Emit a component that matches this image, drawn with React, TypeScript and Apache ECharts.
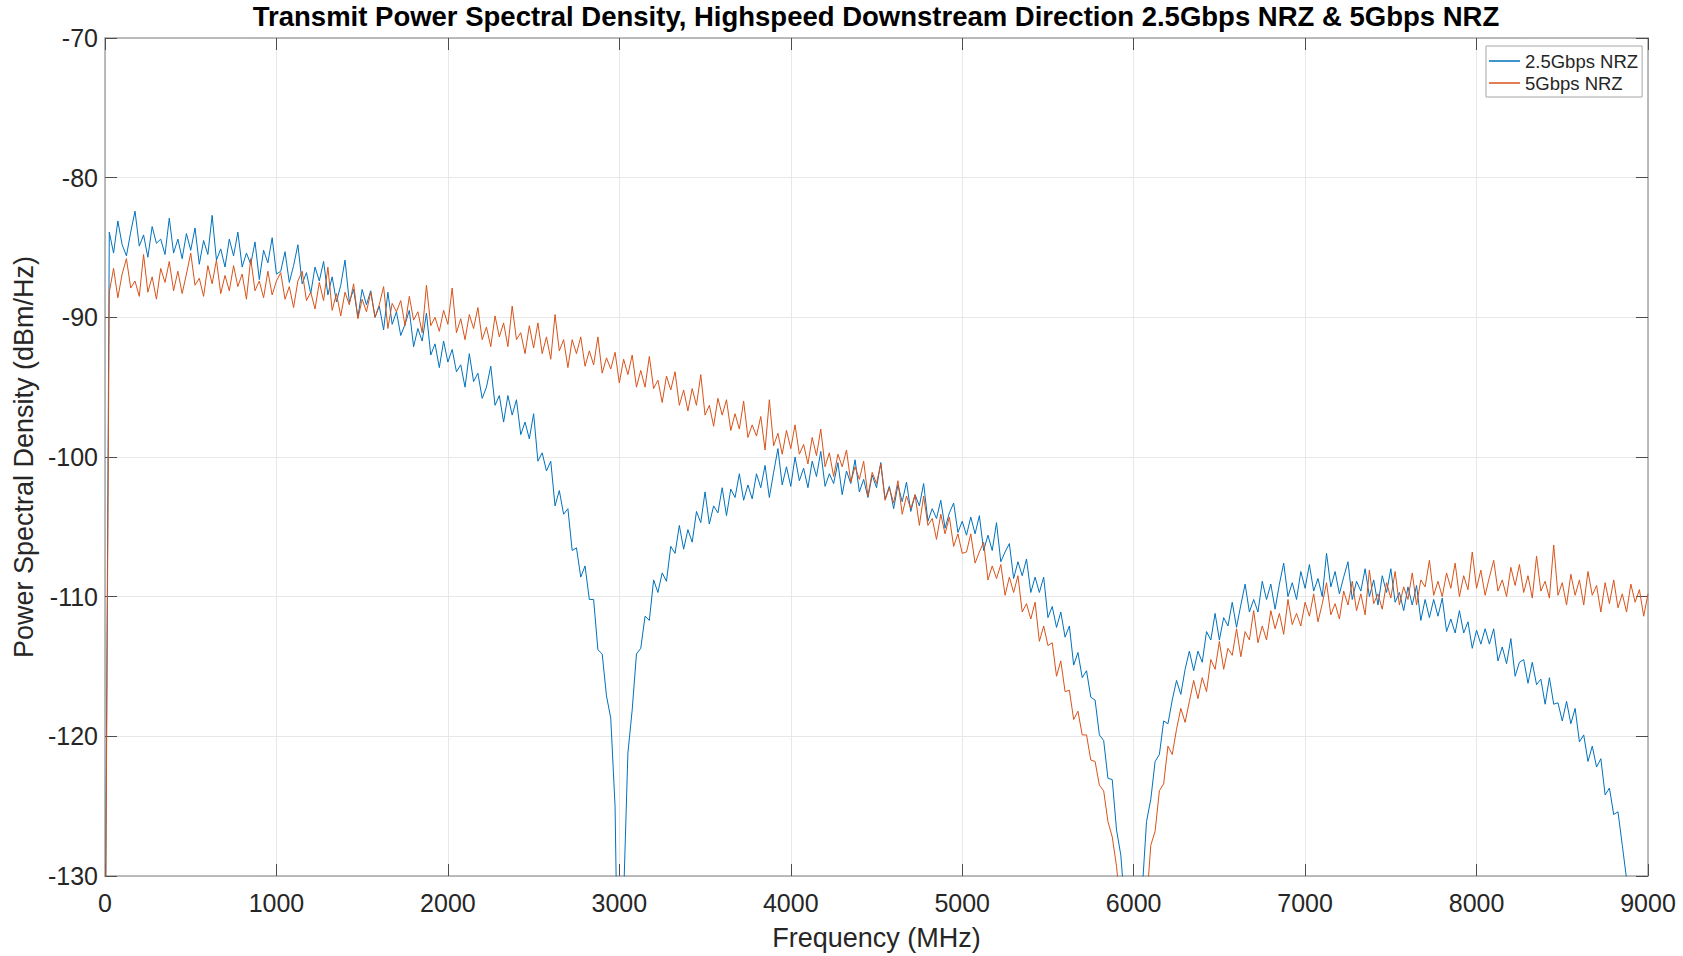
import React, { useEffect, useRef } from "react";
import * as echarts from "echarts";

const TITLE = "Transmit Power Spectral Density, Highspeed Downstream Direction 2.5Gbps NRZ & 5Gbps NRZ";
const X_NAME = "Frequency (MHz)";
const Y_NAME = "Power Spectral Density (dBm/Hz)";
const SERIES_NAMES = ["2.5Gbps NRZ", "5Gbps NRZ"];
const SERIES_COLORS = ["#0072BD", "#D95319"];

const X_MIN = 0;
const X_MAX = 9000;
const X_INTERVAL = 1000;
const Y_MIN = -130;
const Y_MAX = -70;
const Y_INTERVAL = 10;

// frequency grid: one reading every 25 MHz from 0 to 9000 MHz
const FREQ_STEP_MHZ = 25;

// 2.5Gbps NRZ readings (dBm/Hz), rows of 1000 MHz
const PSD_2G5 = [
  -140, -83.9, -85.4, -83.1, -84.8, -85.6, -83.9, -82.4, -84.9, -84.1, -85.7, -83.5, -84.7, -84.4, -85.5, -82.9, -85.4, -84.4, -85.8, -84.0, -85.2, -83.6, -86.2, -84.5, -85.5, -82.7, -85.9, -85.1, -86.4, -84.4, -85.6, -83.9, -86.4, -85.4, -86.2, -84.6, -87.3, -85.2, -86.1, -84.3, -86.9,
  -86.7, -85.3, -87.5, -86.3, -84.8, -87.6, -86.8, -88.3, -86.4, -87.4, -86.0, -88.4, -87.1, -88.9, -87.7, -85.9, -88.9, -88.0, -90.0, -88.0, -89.1, -88.1, -90.0, -89.2, -90.9, -88.2, -90.5, -89.6, -91.3, -90.5, -89.5, -92.1, -90.8, -91.7, -89.7, -92.7, -91.9, -93.6, -91.7, -93.2,
  -92.3, -93.9, -93.4, -95.0, -92.6, -94.6, -94.0, -95.8, -95.0, -93.5, -96.3, -95.6, -97.5, -95.6, -97.0, -95.9, -98.4, -97.5, -98.7, -96.9, -100.3, -99.7, -101.0, -100.3, -103.5, -102.4, -104.1, -103.7, -106.7, -106.5, -108.6, -107.8, -110.2, -110.2, -113.8, -114.1, -117.1, -118.7, -125.0, -145,
  -131.5, -121.2, -118.1, -114.1, -113.7, -111.4, -111.7, -108.8, -109.7, -108.3, -108.9, -106.4, -106.9, -104.9, -106.6, -105.2, -106.1, -103.9, -104.7, -102.5, -104.8, -103.5, -104.0, -102.2, -104.2, -102.3, -102.9, -101.2, -103.1, -102.0, -103.0, -101.2, -102.2, -100.6, -102.9, -101.1, -99.4, -102.0, -100.7, -102.1,
  -100.0, -101.7, -100.8, -102.2, -100.3, -101.4, -99.6, -102.1, -101.2, -101.9, -100.4, -102.7, -101.0, -101.9, -100.2, -102.5, -101.6, -102.9, -101.3, -102.2, -100.4, -103.0, -102.1, -103.7, -102.0, -103.2, -101.8, -103.9, -102.7, -103.5, -101.9, -104.6, -103.7, -104.4, -103.1, -105.1, -104.0, -103.3, -105.4, -104.6,
  -105.6, -104.3, -105.5, -104.2, -106.7, -105.6, -106.7, -104.7, -107.5, -106.8, -106.2, -108.7, -107.5, -108.5, -107.3, -109.7, -108.6, -109.7, -108.6, -111.5, -110.7, -112.2, -111.1, -112.9, -112.1, -114.9, -114.0, -115.8, -115.3, -117.2, -117.4, -119.9, -120.3, -123.0, -123.1, -126.7, -128.5, -132.5, -137, -150,
  -138, -131, -126.1, -124.5, -121.8, -121.3, -118.9, -119.1, -117.4, -116.0, -117.0, -115.2, -113.9, -115.3, -113.9, -114.7, -112.5, -113.1, -111.2, -113.1, -111.5, -112.1, -110.4, -112.2, -110.6, -109.1, -111.1, -110.2, -111.1, -108.9, -110.2, -109.1, -110.9, -109.1, -107.6, -110.0, -109.0, -110.2, -108.2, -109.4,
  -107.7, -109.6, -108.7, -110.0, -106.9, -109.3, -108.2, -109.8, -108.6, -107.5, -110.2, -108.9, -109.6, -108.0, -110.0, -108.8, -110.6, -108.5, -109.7, -108.0, -110.4, -109.7, -111.0, -109.3, -110.6, -109.2, -111.7, -110.2, -111.5, -110.2, -111.4, -110.1, -112.5, -111.6, -112.6, -111.0, -112.6, -111.8, -113.7, -112.4,
  -113.4, -112.3, -113.4, -112.3, -114.6, -113.6, -114.8, -113.0, -115.7, -114.7, -114.5, -116.2, -114.7, -116.3, -115.9, -117.7, -115.8, -117.7, -117.6, -118.9, -117.5, -119.1, -118.0, -120.4, -119.9, -121.8, -120.7, -122.2, -121.6, -124.2, -123.7, -125.6, -125.4, -127.8, -130.2, -133.5, -137, -141, -146, -150,
];

// 5Gbps NRZ readings (dBm/Hz), rows of 1000 MHz
const PSD_5G = [
  -140, -88.2, -86.5, -88.6, -86.9, -85.8, -87.9, -87.4, -88.5, -85.5, -88.2, -87.1, -88.7, -86.5, -87.5, -86.0, -88.1, -86.7, -88.3, -86.9, -85.4, -87.7, -87.2, -88.5, -86.3, -87.6, -85.9, -88.3, -87.0, -88.1, -86.3, -87.8, -86.9, -88.7, -85.8, -88.1, -87.4, -88.6, -86.7, -88.4, -87.4,
  -86.8, -88.7, -87.8, -89.3, -87.4, -86.7, -88.8, -88.2, -89.4, -87.5, -88.8, -86.4, -89.5, -88.3, -89.9, -88.2, -89.1, -87.6, -90.1, -88.7, -89.6, -88.2, -90.0, -89.1, -87.8, -90.8, -89.0, -89.6, -88.8, -90.6, -88.5, -90.2, -89.6, -91.1, -87.7, -90.6, -90.0, -91.0, -89.5, -90.5,
  -87.9, -91.1, -90.1, -91.6, -89.8, -90.8, -89.3, -91.6, -90.7, -92.1, -89.9, -91.4, -90.4, -92.1, -89.2, -91.6, -91.1, -92.6, -90.6, -92.2, -90.4, -92.6, -91.4, -93.0, -89.8, -92.4, -91.6, -93.6, -91.6, -92.6, -91.4, -93.5, -92.4, -93.4, -91.4, -94.0, -92.9, -93.7, -92.5, -94.7,
  -93.0, -94.1, -92.7, -95.0, -93.8, -95.0, -92.8, -95.1, -94.5, -96.1, -94.2, -95.2, -93.9, -96.3, -95.2, -96.7, -95.1, -96.3, -94.1, -97.0, -96.3, -97.8, -95.8, -97.0, -95.9, -98.1, -96.9, -98.0, -96.0, -98.6, -97.7, -98.5, -97.1, -99.5, -95.9, -99.2, -98.3, -99.8, -98.1, -99.4,
  -97.7, -99.8, -99.1, -100.5, -98.6, -99.9, -98.0, -100.7, -99.7, -101.4, -99.8, -100.7, -99.5, -101.8, -100.7, -101.6, -100.3, -102.8, -101.1, -101.9, -100.5, -103.1, -102.2, -103.3, -101.7, -104.1, -102.8, -103.7, -102.7, -104.9, -102.8, -104.9, -104.4, -105.9, -104.1, -105.5, -104.3, -106.4, -105.5, -106.9,
  -106.8, -105.5, -107.6, -106.8, -106.1, -108.8, -107.8, -108.7, -107.7, -109.9, -108.6, -109.7, -108.5, -111.1, -110.5, -111.6, -110.4, -113.2, -112.1, -113.5, -113.3, -115.7, -114.6, -116.8, -116.7, -118.8, -118.2, -119.9, -119.9, -121.7, -121.8, -123.5, -123.9, -126.1, -127.2, -129.3, -132.5, -136.5, -141, -150,
  -143, -137, -132, -127.8, -126.8, -123.9, -123.4, -120.7, -121.3, -119.5, -118.0, -119.0, -117.5, -116.0, -117.3, -115.8, -116.8, -114.5, -115.2, -113.2, -115.2, -113.7, -114.2, -112.3, -114.3, -112.5, -113.1, -111.0, -113.3, -112.1, -113.1, -111.0, -112.3, -111.2, -112.7, -110.2, -112.0, -111.2, -112.1, -110.4,
  -111.4, -109.8, -111.8, -110.5, -109.0, -111.3, -110.5, -111.6, -109.6, -110.6, -108.9, -111.0, -109.8, -111.3, -108.1, -110.5, -109.8, -110.9, -109.0, -110.1, -108.2, -110.6, -109.3, -110.2, -108.3, -110.6, -108.8, -109.3, -107.4, -109.9, -108.9, -110.0, -108.3, -109.4, -107.6, -110.0, -108.5, -109.5, -106.8, -109.4,
  -108.1, -109.9, -108.6, -107.4, -109.6, -108.8, -110.0, -107.9, -109.2, -107.7, -109.7, -108.5, -110.1, -107.1, -109.6, -108.9, -110.1, -106.3, -109.9, -109.0, -110.6, -108.4, -109.9, -108.8, -110.6, -108.2, -109.9, -109.2, -111.1, -109.0, -110.5, -108.8, -110.8, -109.8, -111.1, -109.1, -110.4, -109.5, -111.4, -109.8,
];

const FONT = "'Liberation Sans', Arial, Helvetica, sans-serif";
const TEXT_COLOR = "#262626";
const AXIS_COLOR = "#a6a6a6";
const GRID_COLOR = "#e8e8e8";

const toPairs = (vals: number[]) => vals.map((v, i) => [i * FREQ_STEP_MHZ, v]);

export default function App() {
  const ref = useRef<HTMLDivElement>(null);

  useEffect(() => {
    if (!ref.current) return;
    const chart = echarts.init(ref.current, null, { renderer: "svg" });

    const tickStyle = { show: true, inside: true, length: 12, lineStyle: { color: "#4d4d4d", width: 1 } };
    const lineStyle = { show: true, onZero: false, lineStyle: { color: AXIS_COLOR, width: 1.5 } };

    chart.setOption({
      animation: false,
      backgroundColor: "#ffffff",
      textStyle: { fontFamily: FONT },
      title: {
        text: TITLE,
        left: 876,
        top: 2,
        padding: 0,
        textAlign: "center",
        textStyle: { fontFamily: FONT, fontSize: 27.5, fontWeight: "bold", color: "#000000" },
      },
      legend: {
        data: SERIES_NAMES,
        orient: "vertical",
        left: 1486,
        top: 46,
        padding: [5, 4, 4, 3],
        itemWidth: 31,
        itemHeight: 1.5,
        itemGap: 2,
        itemTextGap: 1,
        icon: "rect",
        borderColor: AXIS_COLOR,
        borderWidth: 1,
        borderRadius: 0,
        backgroundColor: "#ffffff",
        textStyle: { fontFamily: FONT, fontSize: 18.5, color: TEXT_COLOR, lineHeight: 20 },
      },
      grid: { left: 105, right: 35, top: 38, bottom: 76, containLabel: false },
      xAxis: [
        {
          type: "value",
          position: "bottom",
          min: X_MIN,
          max: X_MAX,
          interval: X_INTERVAL,
          name: X_NAME,
          nameLocation: "middle",
          nameGap: 48,
          nameTextStyle: { fontFamily: FONT, fontSize: 27, color: TEXT_COLOR },
          axisLine: lineStyle,
          axisTick: tickStyle,
          axisLabel: {
            fontFamily: FONT,
            fontSize: 25,
            color: TEXT_COLOR,
            margin: 14,
            formatter: (v: number) => String(v),
          },
          splitLine: { show: true, lineStyle: { color: GRID_COLOR, width: 1 } },
        },
        {
          type: "value",
          position: "top",
          min: X_MIN,
          max: X_MAX,
          interval: X_INTERVAL,
          axisLine: lineStyle,
          axisTick: tickStyle,
          axisLabel: { show: false },
          splitLine: { show: false },
        },
      ],
      yAxis: [
        {
          type: "value",
          position: "left",
          min: Y_MIN,
          max: Y_MAX,
          interval: Y_INTERVAL,
          name: Y_NAME,
          nameLocation: "middle",
          nameGap: 48,
          nameRotate: 90,
          nameTextStyle: { fontFamily: FONT, fontSize: 27, color: TEXT_COLOR },
          axisLine: lineStyle,
          axisTick: tickStyle,
          axisLabel: { fontFamily: FONT, fontSize: 25, color: TEXT_COLOR, margin: 7 },
          splitLine: { show: true, lineStyle: { color: GRID_COLOR, width: 1 } },
        },
        {
          type: "value",
          position: "right",
          min: Y_MIN,
          max: Y_MAX,
          interval: Y_INTERVAL,
          axisLine: lineStyle,
          axisTick: tickStyle,
          axisLabel: { show: false },
          splitLine: { show: false },
        },
      ],
      series: [
        {
          name: SERIES_NAMES[0],
          type: "line",
          xAxisIndex: 0,
          yAxisIndex: 0,
          data: toPairs(PSD_2G5),
          showSymbol: false,
          symbol: "none",
          clip: true,
          lineStyle: { color: SERIES_COLORS[0], width: 1 },
          itemStyle: { color: SERIES_COLORS[0] },
        },
        {
          name: SERIES_NAMES[1],
          type: "line",
          xAxisIndex: 0,
          yAxisIndex: 0,
          data: toPairs(PSD_5G),
          showSymbol: false,
          symbol: "none",
          clip: true,
          lineStyle: { color: SERIES_COLORS[1], width: 1 },
          itemStyle: { color: SERIES_COLORS[1] },
        },
      ],
    });

    return () => chart.dispose();
  }, []);

  return (
    <div
      ref={ref}
      style={{ position: "fixed", left: 0, top: 0, width: 1683, height: 956, background: "#ffffff" }}
    />
  );
}
